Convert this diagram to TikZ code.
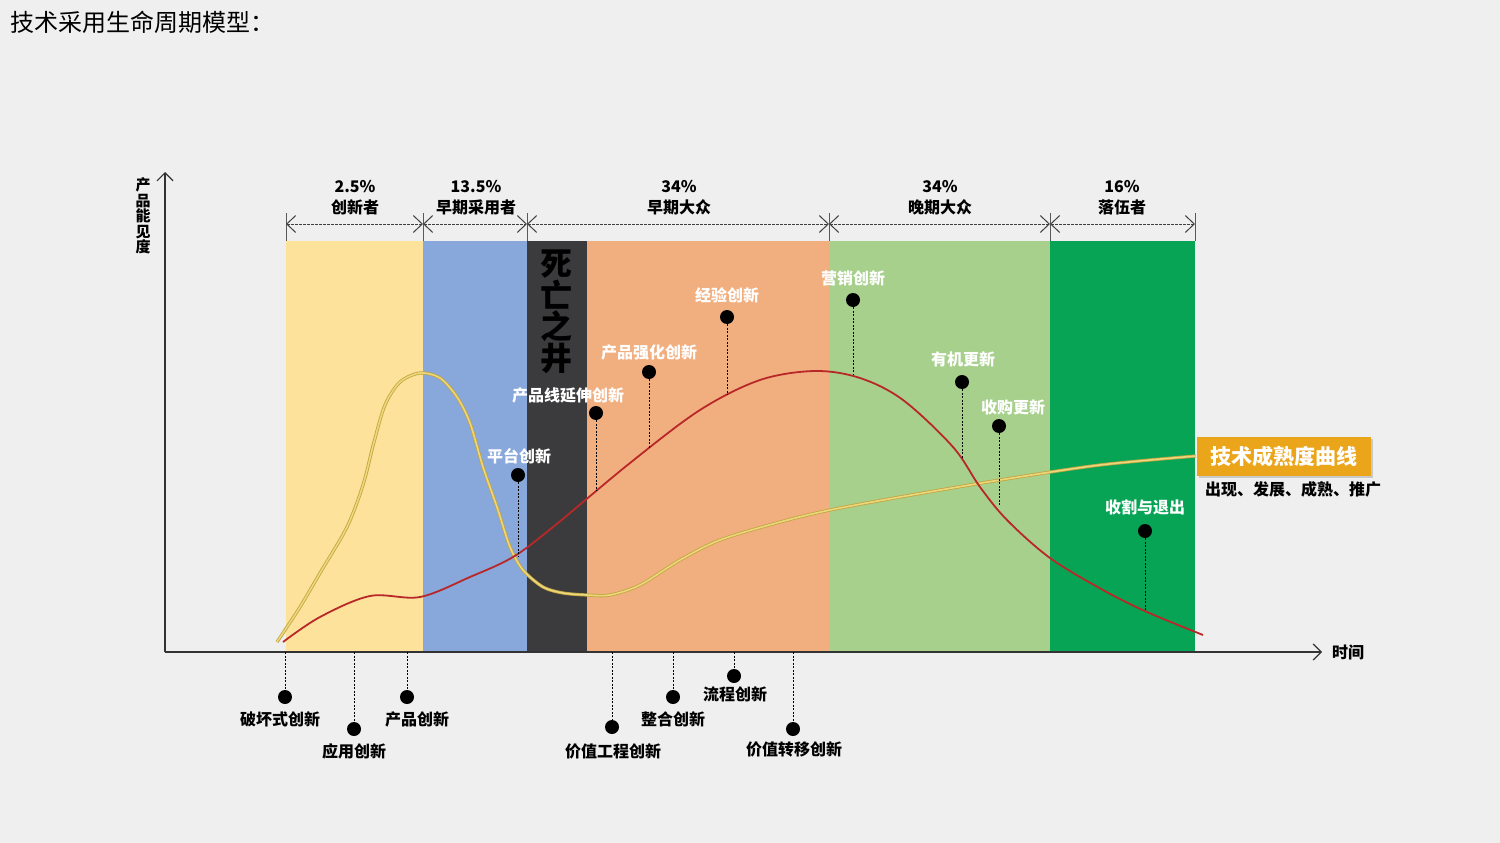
\documentclass[tikz,border=0pt]{standalone}
\usepackage{fontspec}
\setmainfont{Noto Sans CJK SC}
\usetikzlibrary{arrows.meta,shadows}
\definecolor{bg}{HTML}{F0EFF0}
\definecolor{bandY}{HTML}{FCE29B}
\definecolor{bandB}{HTML}{88A7DB}
\definecolor{bandD}{HTML}{3B3B3D}
\definecolor{bandO}{HTML}{F1AF80}
\definecolor{bandLG}{HTML}{A7D08C}
\definecolor{bandG}{HTML}{08A456}
\definecolor{redc}{HTML}{B82828}
\definecolor{goldc}{HTML}{C4A540}
\definecolor{goldin}{HTML}{EBD77C}
\definecolor{boxor}{HTML}{EBA51A}
\tikzset{
  lbl/.style={font=\bfseries\fontsize{16}{21}\selectfont, inner sep=0pt, align=center},
  wlbl/.style={lbl, text=white},
  pindot/.style={circle, fill=black, minimum size=14pt, inner sep=0pt},
  pinline/.style={line width=0.9pt, dash pattern=on 2pt off 1.5pt},
  tick/.style={draw=gray!70!black, line width=0.8pt},
  dimline/.style={draw=black!75, line width=0.8pt, dash pattern=on 2.5pt off 1.5pt,
     {Straight Barb[length=9pt,width=17pt,line width=1pt]}-{Straight Barb[length=9pt,width=17pt,line width=1pt]}},
  axis/.style={draw=black!80, line width=1.2pt, -{Straight Barb[length=8pt,width=16pt]}},
}
\begin{document}
\begin{tikzpicture}[x=1pt,y=-1pt]
\useasboundingbox (0,0) rectangle (1500,843);
\fill[bg] (0,0) rectangle (1500,843);

% title
\node[anchor=west, inner sep=0pt, font=\fontsize{24}{28}\selectfont] (title) at (10,22) {技术采用生命周期模型：};

% bands
\fill[bandY]  (286,241) rectangle (423,651);
\fill[bandB]  (423,241) rectangle (527,651);
\fill[bandD]  (527,241) rectangle (587,651);
\fill[bandO]  (587,241) rectangle (829,651);
\fill[bandLG] (829,241) rectangle (1050,651);
\fill[bandG]  (1050,241) rectangle (1195,651);

% boundary ticks and dimension lines
\foreach \i/\x in {0/286,1/423,2/527,3/829,4/1050,5/1195}{
  \coordinate (ta\i) at (\x,213);
  \coordinate (tb\i) at (\x,241);
  \coordinate (t\i) at (\x,224);
  \draw[tick] (ta\i) -- (tb\i);
}
\draw[dimline] (t0) -- (t1);
\draw[dimline] (t1) -- (t2);
\draw[dimline] (t2) -- (t3);
\draw[dimline] (t3) -- (t4);
\draw[dimline] (t4) -- (t5);

\node[lbl] (s1) at (355,198) {2.5\%\\创新者};
\node[lbl] (s2) at (476,198) {13.5\%\\早期采用者};
\node[lbl] (s3) at (679,198) {34\%\\早期大众};
\node[lbl] (s4) at (940,198) {34\%\\晚期大众};
\node[lbl] (s5) at (1122,198) {16\%\\落伍者};

% death well
\node[font=\bfseries\fontsize{32}{31.5}\selectfont, text=black, align=center, inner sep=0pt] (well) at (556,312) {死\\亡\\之\\井};

% axes
\coordinate (O) at (165,652);
\coordinate (Yend) at (165,172);
\coordinate (Xend) at (1322,652);
\draw[axis] (O) -- (Yend);
\draw[axis] (O) -- (Xend);
\node[lbl, anchor=west] (xl) at (1332,652) {时间};
\node[font=\bfseries\fontsize{15}{15.6}\selectfont, align=center, inner sep=0pt] (yl) at (143,216) {产\\品\\能\\见\\度};

% maturity box
\node[fill=boxor, text=white, font=\bfseries\fontsize{21}{25}\selectfont, minimum width=174pt, minimum height=39pt, inner sep=0pt, drop shadow={opacity=0.35, shadow xshift=2pt, shadow yshift=-2pt}] (mat) at (1284,456) {技术成熟度曲线};
\node[lbl, anchor=west] (matsub) at (1205,489) {出现、发展、成熟、推广};

% yellow curve (technology maturity)
\draw[goldc, line width=0.8pt, double=goldin, double distance=1.6pt]
  plot[smooth, tension=0.5] coordinates {(277,642) (300,607) (320,573) (347,527) (363,485) (374,442) (385,405) (400,382) (420,373) (440,378) (457,397) (470,423) (483,467) (497,507) (510,547) (523,570) (543,587) (563,593) (587,595) (610,595) (640,585) (680,560) (720,540) (780,522) (830,510) (900,497) (1000,480) (1100,465) (1196,456)};

% red curve (adoption)
\draw[redc, line width=1.8pt]
  plot[smooth, tension=0.55] coordinates {(283,642) (320,617) (370,596) (420,597) (470,577) (513,557) (553,527) (630,463) (700,410) (760,380) (815,371) (860,378) (903,400) (953,447) (980,487) (1007,520) (1050,558) (1103,590) (1147,612) (1203,635)};

% upper pins
\foreach \n/\x/\yd/\ye/\lx/\ly/\t in {
  1/518/475/556/519/456/平台创新,
  2/596/413/491/568/395/产品线延伸创新,
  3/649/372/448/649/352/产品强化创新,
  4/727/317/395/727/295/经验创新,
  5/853/300/375/853/278/营销创新,
  6/962/382/458/963/359/有机更新,
  7/999/426/505/1013/407/收购更新,
  8/1145/531/610/1145/507/收割与退出}{
  \node[pindot] (pd\n) at (\x,\yd) {};
  \coordinate (pe\n) at (\x,\ye);
  \draw[pinline] (pd\n) -- (pe\n);
  \node[wlbl] (pl\n) at (\lx,\ly) {\t};
}

% lower pins
\foreach \n/\x/\yd/\lx/\ly/\t in {
  1/285/697/280/719/破坏式创新,
  2/354/729/354/751/应用创新,
  3/407/697/417/719/产品创新,
  4/612/727/613/751/价值工程创新,
  5/673/697/673/719/整合创新,
  6/734/676/735/694/流程创新,
  7/793/729/794/749/价值转移创新}{
  \coordinate (be\n) at (\x,652);
  \node[pindot] (bd\n) at (\x,\yd) {};
  \draw[pinline] (be\n) -- (bd\n);
  \node[lbl] (bl\n) at (\lx,\ly) {\t};
}
\end{tikzpicture}
\end{document}
